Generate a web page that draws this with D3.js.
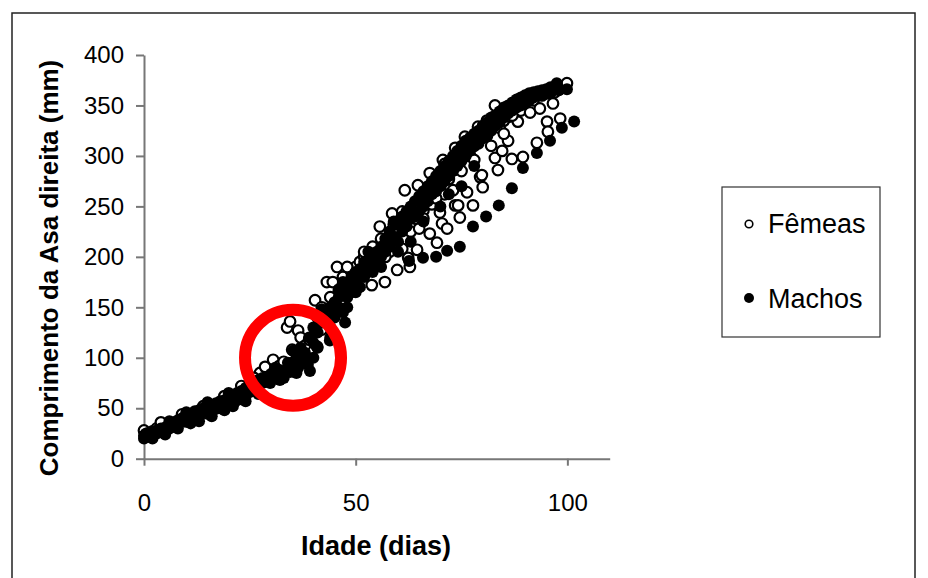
<!DOCTYPE html>
<html>
<head>
<meta charset="utf-8">
<script src="https://cdn.jsdelivr.net/npm/d3@7"></script>
<style>
  body { margin: 0; background: #fff; }
  svg text { font-family: "Liberation Sans", Arial, sans-serif; }
</style>
</head>
<body>
<div id="chart_container"></div>
<script>
// tick values and labels
var x_ticks = [0, 50, 100]
var y_ticks = [0, 50, 100, 150, 200, 250, 300, 350, 400]
var series_names = ['Fêmeas', 'Machos']

// Fêmeas (open circles): [idade, comprimento]
var femeas = [
    [0,28],[1,25],[2,27],[3,30],[4,29],[5,32],[6,31],[7,35],[8,34],[9,38],[10,37],[11,41],
    [12,40],[13,44],[14,46],[15,45],[16,49],[17,50],[18,52],[19,55],[20,57],[21,58],[22,62],
    [23,64],[24,66],[25,70],[26,72],[27,74],[27.4,85],[28.6,91],[29,80],[30.5,98],[31,88],
    [32,92],[33,96],[33.8,130],[34.5,136],[35,108],[36.4,127],[37,120],[38,112],[39,118],
    [40.4,157],[40.9,111],[41,140],[42,150],[43.2,175],[44.6,175],[45.6,190],[46,165],
    [47,180],[48,172],[49,185],[50,190],[51,195],[52,200],[53.8,172],[54,210],[55.7,230],
    [56.9,175],[57,215],[58.6,243],[59.8,187],[60,225],[61.6,266],[62.4,199],[62.8,190],
    [63,240],[64.5,207],[64.7,271],[65,250],[66,260],[67.5,283],[67.5,223],[68,265],
    [69.2,214],[69.9,244],[70.4,233],[70.6,296],[71.6,228],[72,285],[73,266],[73.5,308],
    [73.5,251],[74.2,251],[74.6,239],[75.8,319],[76.3,264],[77,300],[77.7,251],[78.9,329],
    [79.4,279],[79.8,281],[80,269],[81,320],[82,310],[82.9,350],[82.9,298],[83.6,286],
    [84.6,305],[85,335],[86,315],[86.4,339],[86.9,297],[88.3,334],[89,345],[89.5,299],
    [90,352],[91.2,343],[92,355],[92.8,313],[93.5,347],[94,360],[95.2,334],[95.4,324],
    [96.6,352],[97,363],[98.3,337],[99.9,372],[98,366],
    [52,205],[55,196],[56,218],[58,205],[59,232],[60,212],[61,245],[63,225],[64,238],
    [65,228],[66,246],[68,252],[70,270],[71,262],[72,277],[74,290],[76,300],[78,310],
    [80,318],[84,328],[87,340],[44,160],[47,170],[50,178],[53,196],[57,200],
    [42,128],[45,150],[48,190],[51,182],[54,188],[58,220],[61,208],[66,238],[69,258],
    [71,292],[75,285],[78,296],[81,335],[85,322],[88,350],[91,358],[95,362],
    [4,36],[9,44],[14,52],[19,62],[23,72],[26,80]
]

// Machos (filled circles): [idade, comprimento]
var machos = [
    [0,20],[0,23],[0.5,25],[1,22],[1.5,24],[2,26],[3,25],[3,28],[4,30],[5,27],[5,31],[6,33],
    [6,30],[7,32],[7,36],[8,35],[8,38],[9,37],[9,40],[10,38],[10,42],[11,40],[11,44],[12,43],
    [12,47],[13,42],[13,48],[14,46],[14,50],[15,48],[15,52],[16,47],[16,53],[17,52],[17,55],
    [18,50],[18,57],[19,54],[19,58],[20,56],[20,60],[21,60],[21,63],[22,58],[22,65],[23,63],
    [23,67],[24,62],[24,70],[25,66],[25,72],[26,68],[26,74],[27,72],[27,78],[28,75],[28,80],
    [29,78],[29.8,75],[30,84],[31,82],[32.1,78],[32,88],[33,86],[34.5,86],[34,95],[35.2,107],
    [36.4,90],[36,100],[37,98],[37,110],[38.7,93],[38,105],[39.2,87],[39,120],[40,115],
    [40,130],[41,125],[42,135],[42,148],[43.9,117],[44,150],[45,155],[46,160],[46,168],
    [47.5,135],[47,175],[48,170],[49,180],[50,185],[51,188],[52,195],[53,190],[54,200],
    [55,205],[56,210],[57,218],[58,225],[59,220],[60,232],[61,240],[62,245],[62.6,196],
    [63,250],[64,255],[65,260],[65.9,199],[66,265],[67,270],[68,275],[69,200],[69,280],
    [70,285],[71,290],[71.6,206],[72,295],[73,300],[74,305],[74.6,210],[75,310],[76,315],
    [77,318],[77.7,230],[78,322],[79,325],[80,330],[80.8,240],[81,333],[82,338],[83,340],
    [83.8,251],[84,344],[85,348],[86,350],[86.9,268],[87,353],[88,356],[89,358],[89.5,288],
    [90,360],[91,362],[92,363],[92.8,303],[93,364],[94,365],[95,366],[95.9,315],[96,368],
    [97.5,372],[98.7,328],[99.9,366],[101.6,334],
    [30,78],[31,90],[33,80],[35,95],[36,85],[38,100],[40,100],[41,110],[43,140],[44,130],
    [45,145],[46,150],[48,160],[49,165],[50,175],[51,170],[52,180],[53,205],[54,185],
    [55,195],[56,200],[57,205],[58,210],[59,235],[60,215],[61,225],[62,230],[63,238],
    [64,240],[65,245],[66,250],[67,255],[68,262],[69,265],[70,270],[71,275],[72,280],
    [73,285],[74,290],[75,295],[76,300],[77,305],[78,310],[79,312],[80,318],[81,320],
    [82,325],[83,330],[84,333],[85,338],[86,342],[87,345],[88,348],[89,350],[90,352],
    [91,355],[92,358],[94,360],[96,362],[98,365],[63,215],[66,235],[60,205],[56,190],
    [72,262],[75,270],[70,250],[78,290],[48,150],[50,165],[45,140],[44,120],[47,145],
    [2,20],[5,24],[8,30],[11,35],[13,37],[16,42],[19,48],[21,52],[24,57],[27,64],
    [6,37],[10,46],[15,56],[20,65],[25,76]
]

// highlighted region (red ring), in data units
var destaque = [35.2, 100]


var width = 928, height = 578

var svg = d3.select("#chart_container")
            .append("svg")
            .attr("width", width)
            .attr("height", height)

// outer frame (bottom edge runs off the picture)
svg.append("rect")
    .attr("x", 12).attr("y", 13)
    .attr("width", 903).attr("height", 600)
    .attr("fill", "none")
    .attr("stroke", "#222")
    .attr("stroke-width", 1.5)

var x = d3.scaleLinear().domain([0, 110]).range([144, 609.7])
var y = d3.scaleLinear().domain([0, 400]).range([458.7, 55])

// X axis
var gx = svg.append("g")
    .attr("transform", "translate(0," + y(0) + ")")
    .call(d3.axisBottom(x).tickValues(x_ticks).tickSize(7).tickSizeOuter(0).tickPadding(28))
gx.selectAll("text").attr("font-size", 24).attr("fill", "#000")

// Y axis
var gy = svg.append("g")
    .attr("transform", "translate(" + x(0) + ",0)")
    .call(d3.axisLeft(y).tickValues(y_ticks).tickSize(8).tickSizeOuter(0).tickPadding(12))
gy.selectAll("text").attr("font-size", 24).attr("fill", "#000")

svg.selectAll(".domain, .tick line").attr("stroke", "#777").attr("stroke-width", 2)

// axis titles
svg.append("text")
    .attr("x", 376).attr("y", 555)
    .attr("text-anchor", "middle")
    .attr("font-size", 27).attr("font-weight", "bold")
    .text("Idade (dias)")

svg.append("text")
    .attr("transform", "translate(58,268) rotate(-90)")
    .attr("text-anchor", "middle")
    .attr("font-size", 26).attr("font-weight", "bold")
    .text("Comprimento da Asa direita (mm)")

// points: females first, males drawn on top
svg.append("g").selectAll("circle")
    .data(femeas)
    .enter()
    .append("circle")
        .attr("cx", function(d){ return x(d[0]) })
        .attr("cy", function(d){ return y(d[1]) })
        .attr("r", 5.3)
        .attr("fill", "#fff")
        .attr("stroke", "#000")
        .attr("stroke-width", 2.2)

svg.append("g").selectAll("circle")
    .data(machos)
    .enter()
    .append("circle")
        .attr("cx", function(d){ return x(d[0]) })
        .attr("cy", function(d){ return y(d[1]) })
        .attr("r", 6)
        .attr("fill", "#000")

// red ring
svg.append("circle")
    .attr("cx", x(destaque[0]))
    .attr("cy", y(destaque[1]))
    .attr("r", 48)
    .attr("fill", "none")
    .attr("stroke", "#f00")
    .attr("stroke-width", 12)

// legend
var legend = svg.append("g")
legend.append("rect")
    .attr("x", 722).attr("y", 187)
    .attr("width", 158).attr("height", 150)
    .attr("fill", "#fff")
    .attr("stroke", "#333")
    .attr("stroke-width", 1.2)

legend.append("circle")
    .attr("cx", 749).attr("cy", 224).attr("r", 3.8)
    .attr("fill", "#fff").attr("stroke", "#000").attr("stroke-width", 1.6)
legend.append("circle")
    .attr("cx", 749).attr("cy", 298).attr("r", 5)
    .attr("fill", "#000")

legend.selectAll("text.leg")
    .data(series_names)
    .enter()
    .append("text")
        .attr("class", "leg")
        .attr("x", 768)
        .attr("y", function(d, i){ return 233 + i * 75 })
        .attr("font-size", 27)
        .text(function(d){ return d })
</script>
</body>
</html>
